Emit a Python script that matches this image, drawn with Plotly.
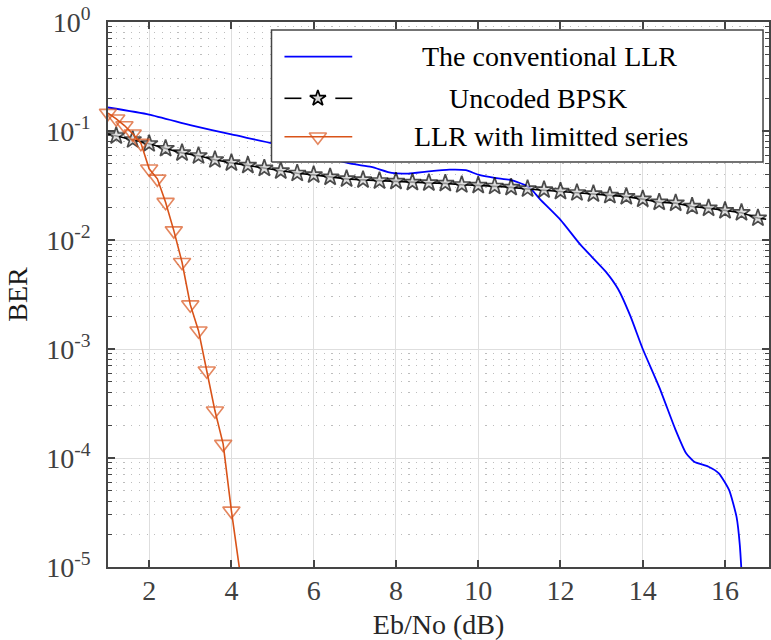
import plotly.graph_objects as go

# ---------------------------------------------------------------------------
# BER curves versus Eb/No (dB)
# ---------------------------------------------------------------------------
conv_ebno = [1.0, 2.0, 3.0, 4.0, 5.0, 6.0, 6.9, 7.4, 7.9, 8.3, 8.8, 9.3, 9.7,
             10.0, 10.4, 10.8, 11.15, 11.3, 11.5, 12.0, 12.5, 13.1, 13.4, 13.7,
             14.0, 14.4, 14.8, 15.05, 15.25, 15.6, 15.85, 16.1, 16.28, 16.36,
             16.44]
conv_ber = [0.1644, 0.1416, 0.1135, 0.0929, 0.0771, 0.0617, 0.0501, 0.0468,
            0.0412, 0.0407, 0.0427, 0.0442, 0.0437, 0.0398, 0.0372, 0.0355,
            0.0318, 0.0290, 0.0237, 0.0153, 0.00891, 0.00513, 0.00355,
            0.00200, 0.00100, 4.47e-4, 1.80e-4, 1.11e-4, 9.23e-5, 8.32e-5,
            7.24e-5, 5.07e-5, 2.88e-5, 1.58e-5, 5.0e-6]

bpsk_ebno = [1.0, 1.2, 1.6, 2.0, 2.4, 2.8, 3.2, 3.6, 4.0, 4.4, 4.8, 5.2, 5.6,
             6.0, 6.4, 6.8, 7.2, 7.6, 8.0, 8.4, 8.8, 9.2, 9.6, 10.0, 10.4,
             10.8, 11.2, 11.6, 12.0, 12.4, 12.8, 13.2, 13.6, 14.0, 14.4, 14.8,
             15.2, 15.6, 16.0, 16.4, 16.8, 17.0]
bpsk_ber = [0.0940, 0.0903, 0.0830, 0.0763, 0.0690, 0.0630, 0.0592, 0.0544,
            0.0510, 0.0484, 0.0455, 0.0431, 0.0409, 0.0396, 0.0377, 0.0364,
            0.0356, 0.0349, 0.0345, 0.0338, 0.0334, 0.0331, 0.0321, 0.0317,
            0.0311, 0.0304, 0.0294, 0.0288, 0.0279, 0.0271, 0.0265, 0.0256,
            0.0250, 0.0237, 0.0222, 0.0218, 0.0203, 0.0196, 0.0186, 0.0178,
            0.0159, 0.0155]

series_ebno = [1.0, 1.2, 1.4, 1.6, 1.8, 2.0, 2.2, 2.4, 2.6, 2.8, 3.0, 3.2,
               3.4, 3.6, 3.8, 4.0, 4.2]
series_ber = [0.146, 0.1294, 0.1123, 0.0943, 0.0774, 0.0450, 0.0364, 0.02224,
              0.01220, 0.00625, 0.002551, 0.001472, 6.32e-4, 2.71e-4,
              1.341e-4, 3.275e-5, 9.44e-6]

legend_labels = ["The conventional LLR", "Uncoded BPSK", "LLR with limitted series"]

x_ticks = [2, 4, 6, 8, 10, 12, 14, 16]
y_decades = [-5, -4, -3, -2, -1, 0]

# ---------------------------------------------------------------------------
BLUE = "#0000FF"
ORANGE = "#D95319"
BLACK = "#000000"
AXIS = "#454545"
FONT = "Liberation Serif, Times New Roman, serif"
YMIN = 10 ** y_decades[0]
STAR = dict(symbol="star", color="#d4d4d4", line=dict(width=1.7, color=BLACK))
TRI = dict(symbol="triangle-down-open", color=ORANGE,
           line=dict(width=1.6, color=ORANGE))

W, H = 771, 640
ML, MR, MT, MB = 108, 0, 22, 73
PX_PER_DB = 41.26
x_max = 1 + (W - ML - MR) / PX_PER_DB

fig = go.Figure()

fig.add_trace(go.Scatter(
    x=conv_ebno, y=conv_ber, mode="lines",
    line=dict(color=BLUE, width=1.8, shape="spline", smoothing=0.5),
    hoverinfo="skip",
))

n = len(bpsk_ebno)
fig.add_trace(go.Scatter(
    x=bpsk_ebno, y=bpsk_ber, mode="lines+markers",
    line=dict(color=BLACK, width=1.6),
    marker=dict(size=[0] + [13] * (n - 2) + [0], **STAR),
    hoverinfo="skip",
))

fig.add_trace(go.Scatter(
    x=series_ebno, y=series_ber, mode="lines+markers",
    line=dict(color=ORANGE, width=1.6),
    marker=dict(size=[0 if v < YMIN else 15 for v in series_ber], **TRI),
    cliponaxis=False,
    hoverinfo="skip",
))

# ---------------------------------------------------------------------------
# Boxed legend, drawn on an overlay with a 0..1 coordinate frame
# ---------------------------------------------------------------------------
plot_w = W - ML - MR
plot_h = H - MT - MB


def fx(px):
    return (px - ML) / plot_w


def fy(py):
    return (H - MB - py) / plot_h


bx0, bx1, by0, by1 = fx(272), fx(765), fy(162), fy(30)
fig.add_trace(go.Scatter(
    x=[bx0, bx1, bx1, bx0, bx0], y=[by0, by0, by1, by1, by0],
    mode="lines", fill="toself", fillcolor="white",
    line=dict(color=AXIS, width=1.5),
    xaxis="x2", yaxis="y2", hoverinfo="skip",
))

rows = [56.7, 98.3, 136.7]
sx0, sx1, smid = fx(285), fx(353), fx(318.5)
# blue sample
fig.add_trace(go.Scatter(x=[sx0, sx1], y=[fy(rows[0])] * 2, mode="lines",
                         line=dict(color=BLUE, width=1.8),
                         xaxis="x2", yaxis="y2", hoverinfo="skip"))
# dashed black sample with star
for a, b in [(285, 302), (336, 353)]:
    fig.add_trace(go.Scatter(x=[fx(a), fx(b)], y=[fy(rows[1])] * 2, mode="lines",
                             line=dict(color=BLACK, width=1.6),
                             xaxis="x2", yaxis="y2", hoverinfo="skip"))
fig.add_trace(go.Scatter(x=[smid], y=[fy(rows[1])], mode="markers",
                         marker=dict(size=12, **STAR),
                         xaxis="x2", yaxis="y2", hoverinfo="skip"))
# orange sample with triangle
fig.add_trace(go.Scatter(x=[sx0, smid, sx1], y=[fy(rows[2])] * 3,
                         mode="lines+markers",
                         line=dict(color=ORANGE, width=1.6),
                         marker=dict(size=[0, 15, 0], **TRI),
                         xaxis="x2", yaxis="y2", hoverinfo="skip"))

text_centres = [550.5, 539, 553]
for label, cx, ry in zip(legend_labels, text_centres, rows):
    fig.add_annotation(x=fx(cx), y=fy(ry), xref="paper", yref="paper",
                       text=label, showarrow=False, xanchor="center",
                       yanchor="middle",
                       font=dict(family=FONT, size=28, color="black"))

# ---------------------------------------------------------------------------
minor_vals = [m * 10 ** d for d in y_decades[:-1] for m in range(2, 10)]

fig.update_layout(
    width=W, height=H,
    margin=dict(l=ML, r=MR, t=MT, b=MB, pad=0),
    paper_bgcolor="white", plot_bgcolor="white",
    showlegend=False,
    font=dict(family=FONT, size=28, color="#404040"),
    xaxis=dict(
        range=[1, x_max],
        tickmode="array", tickvals=x_ticks,
        ticks="inside", ticklen=7, tickwidth=1.5, tickcolor=AXIS,
        showline=True, linecolor=AXIS, linewidth=1.8, mirror="ticks",
        showgrid=True, gridcolor="#dedede", gridwidth=1.2,
        zeroline=False, ticklabelstandoff=-3,
        tickfont=dict(family=FONT, size=28, color="#404040"),
        title=dict(text="Eb/No (dB)", standoff=11,
                   font=dict(family=FONT, size=28, color="#262626")),
    ),
    yaxis=dict(
        type="log", range=[y_decades[0], y_decades[-1]],
        tickmode="array", tickvals=[10 ** d for d in y_decades],
        ticktext=[f"10<sup>{d}</sup>" for d in y_decades],
        ticks="inside", ticklen=7, tickwidth=1.5, tickcolor=AXIS,
        showline=True, linecolor=AXIS, linewidth=1.8, mirror="ticks",
        showgrid=True, gridcolor="#dedede", gridwidth=1.2,
        zeroline=False, ticklabelstandoff=10,
        tickfont=dict(family=FONT, size=28, color="#404040"),
        minor=dict(tickmode="array", tickvals=minor_vals, ticks="inside",
                   ticklen=4, tickwidth=1.2, tickcolor=AXIS,
                   showgrid=True, gridcolor="#bdbdbd", gridwidth=1.2,
                   griddash="1.2px,6.5px"),
        title=dict(text="BER", standoff=10,
                   font=dict(family=FONT, size=28, color="#1a1a1a")),
    ),
    xaxis2=dict(overlaying="x", range=[0, 1], visible=False, fixedrange=True),
    yaxis2=dict(overlaying="y", range=[0, 1], visible=False, fixedrange=True),
)

fig.write_html("out.html")
